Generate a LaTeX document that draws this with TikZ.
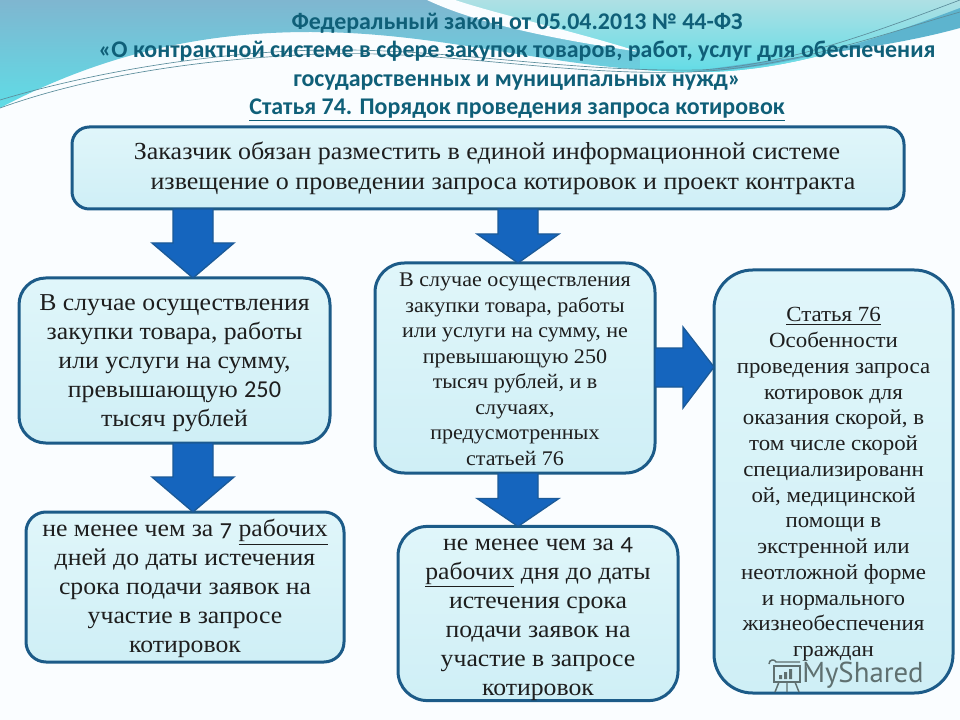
\documentclass[tikz,border=0pt]{standalone}
\usepackage{fontspec}
\usetikzlibrary{calc}
\setmainfont{Liberation Serif}[FakeStretch=1.06]
\newfontfamily\titlefont{Carlito}[BoldFont={Carlito Bold}]
\newfontfamily\digitfont{Carlito}
\newfontfamily\olddigits{Carlito}[Numbers=OldStyle]
\newfontfamily\markfont{PT Sans}
\definecolor{boxline}{HTML}{1C5B88}
\definecolor{boxtop}{HTML}{E0F6FA}
\definecolor{boxbottom}{HTML}{CFEFF6}
\definecolor{arrowfill}{HTML}{1565BE}
\definecolor{arrowline}{HTML}{1B5A98}
\definecolor{titlecol}{HTML}{0F5F78}
\definecolor{bodycol}{HTML}{1E1E1E}
\definecolor{wavelight}{HTML}{AEE0E4}
\definecolor{wavemid}{HTML}{7ABEDA}
\definecolor{wavecyan}{HTML}{5FDCE6}
\definecolor{waveleft}{HTML}{7FB6D0}
\definecolor{waveband}{HTML}{5DB4CE}
\definecolor{waveline}{HTML}{5C8E9C}
\definecolor{markcol}{HTML}{5F7070}
\tikzset{
  infobox/.style={draw=boxline,line width=2.25pt,rounded corners=#1,top color=boxtop,bottom color=boxbottom,
     inner sep=0pt,outer sep=0pt,align=center,text=bodycol},
  bigtext/.style={font=\fontsize{18.2}{21.75}\selectfont},
  smalltext/.style={font=\fontsize{15.6}{19.1}\selectfont},
  sidetext/.style={font=\fontsize{16.2}{19.3}\selectfont},
  blockarrow/.style={fill=arrowfill,draw=arrowline,line width=1pt,line join=miter},
  wavethin/.style={draw=waveline,line width=0.5pt}
}
\newcommand\blockdown[4]{%
  \draw[blockarrow] ($(#3|-#1.south)+(-20,0)$) -- ($(#3|-#2.north)+(-20,-#4)$) -- ($(#3|-#2.north)+(-41,-#4)$)
    -- (#3|-#2.north) -- ($(#3|-#2.north)+(41,-#4)$) -- ($(#3|-#2.north)+(20,-#4)$) -- ($(#3|-#1.south)+(20,0)$) -- cycle;}
\begin{document}
\begin{tikzpicture}[x=0.75pt,y=-0.75pt]
\useasboundingbox (0,0) rectangle (960,720);
\fill[white!98!cyan] (0,0) rectangle (960,720);
% background waves
\begin{scope}
\clip (0,108) .. controls (100,55) and (200,32) .. (310,32) .. controls (450,32) and (560,72) .. (700,72)
   .. controls (790,72) and (880,40) .. (960,8) -- (960,0) -- (0,0) -- cycle;
\shade[top color=waveleft,bottom color=wavecyan] (0,0) rectangle (960,108);
\shade[top color=wavelight,middle color=wavemid,bottom color=wavecyan]
   (440,0) .. controls (500,25) and (570,38) .. (640,50) -- (640,75) -- (960,75) -- (960,0) -- cycle;
\end{scope}
\fill[white!98!cyan] (427,0) .. controls (480,25) and (560,40) .. (640,52) .. controls (570,30) and (500,15) .. (455,0) -- cycle;
\fill[waveband] (690,72) .. controls (790,70) and (880,38) .. (960,8) -- (960,28) .. controls (880,50) and (800,55) .. (690,72) -- cycle;
\draw[wavethin] (0,100) .. controls (100,70) and (220,52) .. (320,50) .. controls (450,48) and (560,72) .. (700,70)
   .. controls (790,65) and (880,30) .. (960,0);
\draw[wavethin] (0,108) .. controls (100,72) and (220,58) .. (320,54) .. controls (450,50) and (560,76) .. (690,72)
   .. controls (790,68) and (880,35) .. (960,12);
% title
\node[font=\titlefont\bfseries\fontsize{17.95}{21.2}\selectfont,text=titlecol,align=center,inner sep=0pt] (title) at (517,67)
 {Федеральный закон от 05.04.2013 № 44-ФЗ\\
  «О контрактной системе в сфере закупок товаров, работ, услуг для обеспечения\\
  государственных и муниципальных нужд»\\
  \underline{Статья 74. Порядок проведения запроса котировок}};
% boxes
\node[infobox=13pt,minimum width=832*.75pt,minimum height=82*.75pt,font=\fontsize{18.4}{22.5}\selectfont,align=left] (top) at (488,168)
 {\hspace*{10pt}Заказчик обязан разместить в единой информационной системе\\
  \hspace*{22.5pt}извещение о проведении запроса котировок и проект контракта};
\node[infobox=20pt,bigtext,minimum width=311*.75pt,minimum height=165*.75pt] (leftone) at (174.5,360.5)
 {\rule{0pt}{16.5pt}В случае осуществления\\закупки товара, работы\\или услуги на сумму,\\превышающую {\digitfont 250}\\тысяч рублей};
\node[infobox=15pt,bigtext,minimum width=318*.75pt,minimum height=150*.75pt] (lefttwo) at (185,587)
 {\rule{0pt}{15.5pt}не менее чем за {\olddigits 7} \underline{рабочих}\\дней до даты истечения\\срока подачи заявок на\\участие в запросе\\котировок};
\node[infobox=22pt,smalltext,minimum width=280*.75pt,minimum height=210*.75pt] (midone) at (515,368)
 {\rule{0pt}{12pt}В случае осуществления\\закупки товара, работы\\или услуги на сумму, не\\превышающую 250\\тысяч рублей, и в\\случаях,\\предусмотренных\\статьей 76};
\node[infobox=22pt,bigtext,minimum width=280*.75pt,minimum height=173*.75pt] (midtwo) at (538,613.5)
 {\rule{0pt}{18pt}не менее чем за {\olddigits 4}\\\underline{рабочих} дня до даты\\истечения срока\\подачи заявок на\\участие в запросе\\котировок};
\node[infobox=29pt,sidetext,minimum width=239*.75pt,minimum height=423*.75pt] (right) at (833.5,481.5)
 {\rule{0pt}{15pt}\underline{Статья 76}\\Особенности\\проведения запроса\\котировок для\\оказания скорой, в\\том числе скорой\\специализированн\\ой, медицинской\\помощи в\\экстренной или\\неотложной форме\\и нормального\\жизнеобеспечения\\граждан};
% block arrows
\coordinate (axisleft) at (193,0);
\coordinate (axismid) at (518,0);
\blockdown{top}{leftone}{axisleft}{35}
\blockdown{leftone}{lefttwo}{axisleft}{35}
\blockdown{top}{midone}{axismid}{29}
\blockdown{midone}{midtwo}{axismid}{28}
\coordinate (axisside) at (0,367);
\draw[blockarrow] ($(midone.east|-axisside)+(0,-19)$) -- ($(right.west|-axisside)+(-31,-19)$) -- ($(right.west|-axisside)+(-31,-40)$)
   -- (right.west|-axisside) -- ($(right.west|-axisside)+(-31,41)$) -- ($(right.west|-axisside)+(-31,20)$) -- ($(midone.east|-axisside)+(0,20)$) -- cycle;
% watermark
\begin{scope}[draw=markcol,line width=1.1pt]
\draw (774,666) -- (800,666) -- (800,682) -- (774,682) -- cycle;
\draw (769,664) .. controls (769,659) and (775,659) .. (776,662) -- (800,662);
\draw (779,682) -- (775,692) (795,682) -- (799,692) (787,682) -- (787,692);
\fill[markcol] (779,675) rectangle (782,679) (784,672) rectangle (787,679) (789,669) rectangle (792,679);
\end{scope}
\node[font=\markfont\fontsize{21.6}{24}\selectfont,text=markcol,inner sep=0pt] (mark) at (863,675) {MyShared};
\end{tikzpicture}
\end{document}
